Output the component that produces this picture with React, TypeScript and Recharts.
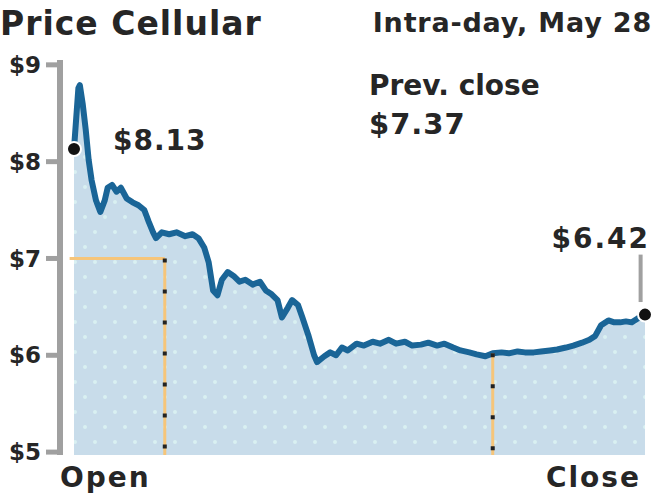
import React from "react";
import { ComposedChart, Area, XAxis, YAxis, ReferenceLine, ReferenceDot } from "recharts";

const titleText = "Price Cellular";
const subtitleText = "Intra-day, May 28";
const prevCloseLabel = "Prev. close";
const prevClose = 7.37;

const minutes = [0, 3, 4, 6, 8, 10, 12, 15, 18, 21, 23, 26, 29, 32, 36, 40, 44, 48, 51, 54, 56, 60, 65, 70, 76, 81, 85, 89, 92, 95, 98, 101, 105, 109, 113, 117, 122, 127, 131, 135, 139, 142, 146, 149, 153, 156, 160, 164, 166, 171, 175, 179, 183, 187, 193, 198, 204, 209, 215, 220, 226, 231, 237, 242, 248, 253, 259, 264, 270, 275, 281, 286, 292, 297, 303, 308, 314, 319, 325, 330, 336, 341, 347, 352, 356, 360, 365, 369, 373, 377, 381, 385, 390];
const prices = [8.13, 8.76, 8.79, 8.59, 8.33, 8.02, 7.81, 7.6, 7.48, 7.6, 7.73, 7.76, 7.69, 7.73, 7.62, 7.58, 7.55, 7.5, 7.38, 7.27, 7.21, 7.27, 7.25, 7.27, 7.23, 7.25, 7.21, 7.11, 6.96, 6.67, 6.62, 6.78, 6.86, 6.82, 6.76, 6.78, 6.73, 6.76, 6.67, 6.63, 6.57, 6.39, 6.49, 6.57, 6.52, 6.39, 6.21, 6.0, 5.93, 5.99, 6.03, 6.0, 6.08, 6.05, 6.12, 6.1, 6.14, 6.12, 6.16, 6.12, 6.14, 6.1, 6.11, 6.13, 6.1, 6.12, 6.08, 6.05, 6.03, 6.01, 5.99, 6.02, 6.03, 6.02, 6.04, 6.03, 6.03, 6.04, 6.05, 6.06, 6.08, 6.1, 6.13, 6.16, 6.2, 6.31, 6.36, 6.34, 6.34, 6.35, 6.34, 6.38, 6.42];

const yTicks = [5, 6, 7, 8, 9];
const xTicks = [0, 390];
const xLabels = ["Open", "Close"];
const markerLevel = 7;
const markerTimes = [62, 286];
const markerPrices = [7, 6.02];
const leaderTime = 387;
const leaderRange = [6.55, 7.04];

const data = minutes.map((m, i) => ({ t: m, p: prices[i] }));

const FONT = "DejaVu Sans, sans-serif";
const TEXT = "#262626";
const LINE = "#1a6597";
const ORANGE = "#f6c57a";

const fmt = (v: number) => "$" + v.toFixed(2);

const XTick = (props: any) => {
  const { x, y, payload } = props;
  const first = payload.value === xTicks[0];
  return (
    <text
      x={first ? x - 14 : x - 4}
      y={y + 24}
      textAnchor={first ? "start" : "end"}
      fontFamily={FONT}
      fontWeight="bold"
      fontSize={28}
      letterSpacing={2}
      fill={TEXT}
    >
      {first ? xLabels[0] : xLabels[1]}
    </text>
  );
};

export default function App() {
  const first = data[0];
  const last = data[data.length - 1];
  return (
    <div style={{ position: "absolute", left: 0, top: 0, width: 660, height: 500, background: "#fff" }}>
      <ComposedChart width={660} height={500} data={data} margin={{ top: 60, right: 15, left: 0, bottom: 5 }}>
        <defs>
          <pattern id="dots" width="20" height="30" patternUnits="userSpaceOnUse">
            <rect width="20" height="30" fill="#c8dcea" />
            <circle cx="5" cy="7" r="2" fill="#d9f0f2" />
            <circle cx="15" cy="22" r="2" fill="#d9f0f2" />
          </pattern>
        </defs>
        <XAxis
          dataKey="t"
          type="number"
          domain={[0, 390]}
          ticks={xTicks}
          padding={{ left: 14, right: 0 }}
          axisLine={false}
          tickLine={false}
          height={40}
          tick={<XTick />}
          interval={0}
        />
        <YAxis
          type="number"
          domain={[4.97, 9.05]}
          ticks={yTicks}
          width={60}
          tickFormatter={(v: number) => "$" + v}
          axisLine={{ stroke: "#a0a0a0", strokeWidth: 6 }}
          tickLine={{ stroke: "#a0a0a0", strokeWidth: 5 }}
          tickSize={14}
          tickMargin={5}
          tick={{ fill: TEXT, fontSize: 23, fontWeight: "bold", fontFamily: FONT }}
          interval={0}
        />
        <Area
          type="linear"
          dataKey="p"
          stroke={LINE}
          strokeWidth={6}
          strokeLinejoin="round"
          fill="url(#dots)"
          fillOpacity={1}
          isAnimationActive={false}
          dot={false}
          activeDot={false}
        />
        <ReferenceLine
          segment={[{ x: -3, y: markerLevel }, { x: markerTimes[0], y: markerLevel }]}
          stroke={ORANGE}
          strokeWidth={3}
          ifOverflow="visible"
        />
        {markerTimes.map((mt, i) => (
          <ReferenceLine
            key={"o" + i}
            segment={[{ x: mt, y: markerPrices[i] }, { x: mt, y: 4.97 }]}
            stroke={ORANGE}
            strokeWidth={3}
            ifOverflow="visible"
          />
        ))}
        {markerTimes.map((mt, i) => (
          <ReferenceLine
            key={"d" + i}
            segment={[{ x: mt, y: markerPrices[i] }, { x: mt, y: 4.97 }]}
            stroke="#222"
            strokeWidth={4}
            strokeDasharray="4 27"
            ifOverflow="visible"
          />
        ))}
        <ReferenceLine
          segment={[{ x: leaderTime, y: leaderRange[0] }, { x: leaderTime, y: leaderRange[1] }]}
          stroke="#a0a0a0"
          strokeWidth={4}
          ifOverflow="visible"
        />
        <ReferenceDot
          x={first.t}
          y={first.p}
          r={7}
          fill="#111"
          stroke="#fff"
          strokeWidth={2}
          ifOverflow="visible"
          label={(p: any) => (
            <text x={p.viewBox.x + 46} y={p.viewBox.y + 8} fontFamily={FONT} fontWeight="bold" fontSize={28} letterSpacing={1} fill={TEXT}>
              {fmt(first.p)}
            </text>
          )}
        />
        <ReferenceDot
          x={last.t}
          y={last.p}
          r={7}
          fill="#111"
          stroke="#fff"
          strokeWidth={2}
          ifOverflow="visible"
          label={(p: any) => (
            <text x={p.viewBox.x + p.viewBox.width / 2 + 5} y={p.viewBox.y - 60} textAnchor="end" fontFamily={FONT} fontWeight="bold" fontSize={28} letterSpacing={2} fill={TEXT}>
              {fmt(last.p)}
            </text>
          )}
        />
      </ComposedChart>
      <svg width={660} height={500} style={{ position: "absolute", left: 0, top: 0, pointerEvents: "none" }}>
        <text x={0} y={35} fontFamily={FONT} fontWeight="bold" fontSize={33} letterSpacing={1} fill={TEXT}>{titleText}</text>
        <text x={652} y={32} textAnchor="end" fontFamily={FONT} fontWeight="bold" fontSize={27} letterSpacing={0.8} fill={TEXT}>{subtitleText}</text>
        <text x={369} y={95} fontFamily={FONT} fontWeight="bold" fontSize={28} fill={TEXT}>{prevCloseLabel}</text>
        <text x={369} y={134} fontFamily={FONT} fontWeight="bold" fontSize={29} letterSpacing={1} fill={TEXT}>{fmt(prevClose)}</text>
      </svg>
    </div>
  );
}
